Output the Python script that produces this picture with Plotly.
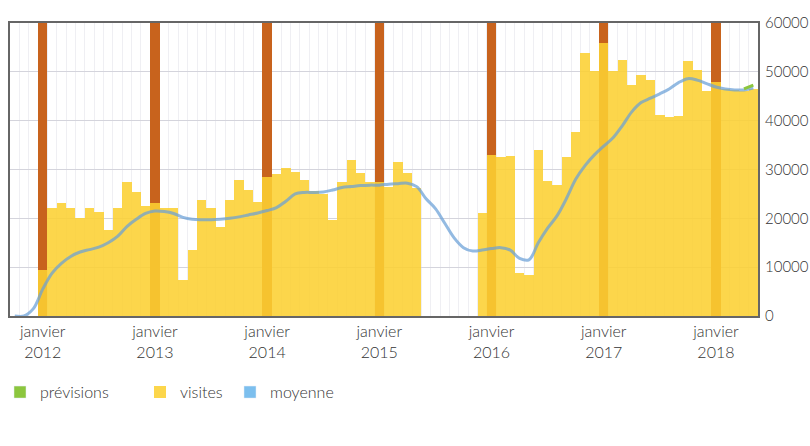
import pandas as pd
import plotly.graph_objects as go

# ---- data ----
mois = pd.period_range("2011-10", "2018-05", freq="M")

visites = [
    0, 0, 0,
    9400, 22100, 23100, 22100, 20000, 22100, 21300, 17600, 22100, 27500, 25400, 22500,
    23100, 22100, 22100, 7400, 13500, 23700, 22100, 18300, 23700, 27900, 25800, 23400,
    28500, 29000, 30300, 29500, 27900, 25500, 25000, 19700, 27500, 31900, 29300, 27500,
    27500, 26400, 31500, 29300, 26200, 0, 0, 0, 0, 0, 0, 21100,
    33000, 32500, 32800, 8800, 8300, 34000, 27700, 26800, 32500, 37700, 53900, 50200,
    55900, 50200, 52400, 47300, 49400, 48300, 41200, 40800, 41000, 52200, 50400, 46000,
    48000, 46500, 46300, 46000, 46500,
]

moyenne = [
    0, 0, 1500,
    5500, 8800, 10800, 12200, 13100, 13600, 14100, 15000, 16300, 18300, 19800, 21000,
    21500, 21400, 21000, 20200, 19800, 19700, 19700, 19800, 20000, 20300, 20700, 21100,
    21600, 22200, 23500, 25000, 25300, 25300, 25400, 25800, 26300, 26500, 26700, 26800,
    26800, 27000, 27100, 27200, 26500, 24000, 22000, 19000, 16000, 14000, 13300, 13500,
    13800, 14000, 13500, 11800, 11500, 15000, 18000, 20500, 24000, 28000, 30800, 33000,
    34800, 36500, 39000, 41800, 43700, 44600, 45500, 46500, 47800, 48600, 48300, 47600,
    46900, 46500, 46300, 46300, 46700,
]

previsions_mois = ["2018-04", "2018-05"]
previsions = [46500, 47300]

repere_janvier = 60000  # hauteur des barres de janvier

assert len(visites) == len(mois) == len(moyenne)

idx = list(range(len(mois)))
jan_idx = [i for i, m in enumerate(mois) if m.month == 1]
jan_text = [f"janvier<br>{mois[i].year}" for i in jan_idx]
prev_idx = [list(map(str, mois)).index(m) for m in previsions_mois]

FONT = "Lato"
TXT = "#333333"
YEL = "rgba(252,208,50,0.88)"
ORA = "#c8631d"
BLU = "rgba(105,160,215,0.72)"
GRN = "#8cc63e"

def f(size=14):
    return dict(family=FONT, size=size, color=TXT, weight=300)

fig = go.Figure()

# January markers (behind)
fig.add_trace(go.Bar(
    x=jan_idx, y=[repere_janvier] * len(jan_idx), width=1,
    marker=dict(color=ORA, line=dict(width=0)), showlegend=False, hoverinfo="skip",
))
# visites
fig.add_trace(go.Bar(
    x=idx, y=visites, width=1, name="visites",
    marker=dict(color=YEL, line=dict(width=0)), legend="legend2",
))
# moyenne
fig.add_trace(go.Scatter(
    x=idx, y=moyenne, mode="lines", line=dict(color=BLU, width=3, shape="spline", smoothing=1),
    showlegend=False, name="moyenne",
))
# prévisions
fig.add_trace(go.Scatter(
    x=prev_idx, y=previsions, mode="lines", line=dict(color=GRN, width=3),
    showlegend=False, name="prévisions",
))
# legend entries (square swatches)
fig.add_trace(go.Bar(x=[None], y=[None], name="prévisions", marker=dict(color=GRN), legend="legend"))
fig.add_trace(go.Bar(x=[None], y=[None], name="moyenne", marker=dict(color="#7cbfee"), legend="legend3"))

legend_common = dict(
    orientation="h", yanchor="middle", y=-0.26, xanchor="left",
    font=f(16), bgcolor="rgba(0,0,0,0)",
)

fig.update_layout(
    width=810, height=446,
    margin=dict(l=10, r=52, t=23, b=130, autoexpand=False),
    paper_bgcolor="white", plot_bgcolor="white",
    barmode="overlay", bargap=0,
    font=f(14),
    legend=dict(x=(0 - 10) / 748, **legend_common),
    legend2=dict(x=(140 - 10) / 748, **legend_common),
    legend3=dict(x=(230 - 10) / 748, **legend_common),
    xaxis=dict(
        range=[-0.5, len(mois) - 0.5],
        tickmode="array", tickvals=jan_idx, ticktext=jan_text,
        ticks="", showgrid=False, zeroline=False, automargin=False,
        showline=True, mirror=True, linecolor="#666666", linewidth=2,
        minor=dict(tickmode="linear", tick0=-0.5, dtick=1, showgrid=True,
                   gridcolor="#efeff3", gridwidth=1, ticks=""),
        tickfont=f(16),
    ),
    yaxis=dict(
        side="right", range=[0, 60000], dtick=10000, tickformat="d",
        showgrid=True, gridcolor="#d4d4dc", gridwidth=1, zeroline=False, automargin=False,
        showline=True, mirror=True, linecolor="#666666", linewidth=2,
        ticks="", ticklabelstandoff=2, tickfont=f(15),
    ),
)

fig.write_html("out.html", config={"displayModeBar": False},
               post_script="document.body.style.margin='0px';")
